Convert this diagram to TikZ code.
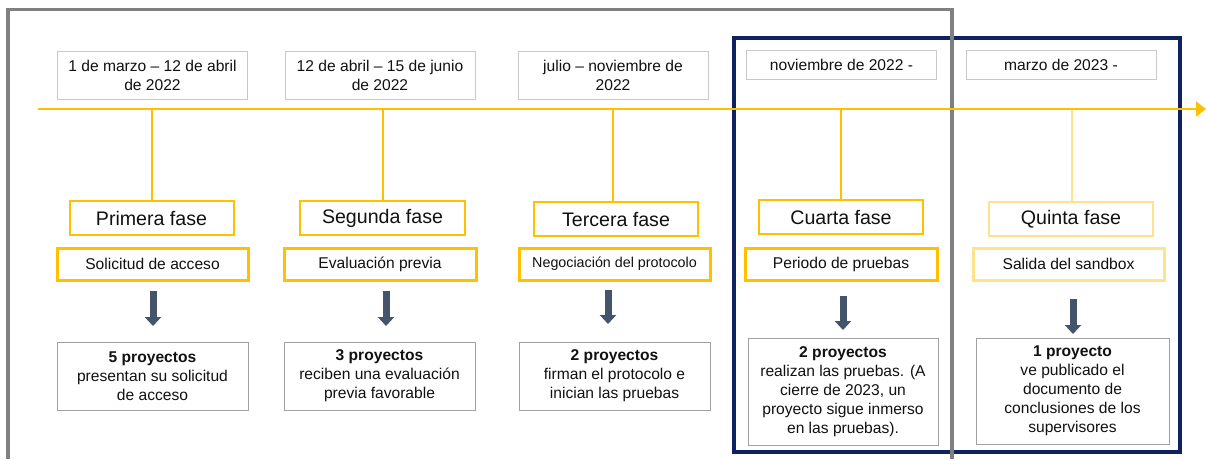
\documentclass[tikz,border=0pt]{standalone}
\usepackage{fontspec}
\setmainfont{Liberation Sans}
\usetikzlibrary{arrows.meta}
\definecolor{ygold}{HTML}{FFC000}
\definecolor{ylight}{HTML}{FFE38C}
\definecolor{navyb}{HTML}{0E2161}
\definecolor{frameg}{HTML}{7F7F7F}
\definecolor{dateg}{HTML}{C9C9C9}
\definecolor{resg}{HTML}{A0A0A0}
\definecolor{slate}{HTML}{44546A}
\definecolor{txt}{HTML}{111111}
\begin{document}
\begin{tikzpicture}[x=1pt,y=-1pt,
  every node/.style={inner sep=0pt, align=center, text=txt},
  datebox/.style={draw=dateg, line width=0.8pt, minimum width=190pt, minimum height=48pt, font=\fontsize{15.6}{19}\selectfont},
  datebox1/.style={datebox, minimum height=29pt},
  fasebox/.style={draw=ygold, line width=2pt, minimum width=164pt, minimum height=34pt, font=\fontsize{19.6}{23}\selectfont},
  subbox/.style={draw=ygold, line width=3pt, minimum width=191pt, minimum height=32pt, font=\fontsize{15.6}{19}\selectfont},
  resbox/.style={draw=resg, line width=1pt, minimum width=191pt, minimum height=68pt, font=\fontsize{15.6}{19}\selectfont},
  blockarrow/.style={draw=slate, line width=7pt, -{Triangle[length=9pt,width=16pt]}},
  tline/.style={draw=ygold, line width=2pt, -{Triangle[length=10pt,width=15pt]}},
  tick/.style={draw=ygold, line width=1.8pt},
  ticklight/.style={draw=ylight, line width=1.5pt}
]
\useasboundingbox (0,0) rectangle (1206,459);
\fill[white] (0,0) rectangle (1206,459);

% frames
\draw[navyb, line width=4pt] (734,38) rectangle (1180,452);
\draw[frameg, line width=3.5pt] (8,459) -- (8,9.5) -- (952,9.5) -- (952,459);

% date boxes
\node[datebox] (d1) at (152.5,75) {1 de marzo -- 12 de abril\\de 2022};
\node[datebox] (d2) at (380,75) {12 de abril -- 15 de junio\\de 2022};
\node[datebox] (d3) at (613,75) {julio -- noviembre de\\2022};
\node[datebox1] (d4) at (841.5,64.5) {noviembre de 2022 -};
\node[datebox1] (d5) at (1061,64.5) {marzo de 2023 -};

% timeline
\coordinate (tl0) at (38,109);
\coordinate (tl1) at (1206,109);
\coordinate (t1) at (152,109);
\coordinate (t2) at (383,109);
\coordinate (t3) at (613,109);
\coordinate (t4) at (841,109);
\coordinate (t5) at (1072,109);

% fase boxes
\node[fasebox] (f1) at (151.5,218) {Primera fase};
\node[fasebox, minimum width=165pt] (f2) at (382.5,218) {Segunda fase};
\node[fasebox] (f3) at (616,219) {Tercera fase};
\node[fasebox] (f4) at (841,217) {Cuarta fase};
\node[fasebox, draw=ylight] (f5) at (1071,219) {Quinta fase};

\draw[tick] (t1) -- (t1 |- f1.north);
\draw[tick] (t2) -- (t2 |- f2.north);
\draw[tick] (t3) -- (t3 |- f3.north);
\draw[tick] (t4) -- (t4 |- f4.north);
\draw[ticklight] (t5) -- (t5 |- f5.north);
\draw[tline] (tl0) -- (tl1);

% subtitle boxes
\node[subbox] (s1) at (152.5,264) {Solicitud de acceso};
\node[subbox, minimum width=192pt] (s2) at (380,264) {Evaluación previa};
\node[subbox, font=\fontsize{14.3}{17}\selectfont] (s3) at (614.5,264) {Negociación del protocolo};
\node[subbox, minimum width=192pt] (s4) at (841,264) {Periodo de pruebas};
\node[subbox, draw=ylight] (s5) at (1068.5,264) {Salida del sandbox};

% result boxes
\node[resbox] (r1) at (152.5,376) {\textbf{5 proyectos}\\presentan su solicitud\\de acceso};
\node[resbox] (r2) at (379.5,376) {\textbf{3 proyectos}\\reciben una evaluación\\previa favorable};
\node[resbox] (r3) at (614.5,376) {\textbf{2 proyectos}\\firman el protocolo e\\inician las pruebas};
\node[resbox, minimum width=190pt, minimum height=107pt] (r4) at (843,391.5) {\textbf{2 proyectos}\\realizan las pruebas. (A\\cierre de 2023, un\\proyecto sigue inmerso\\en las pruebas).};
\node[resbox, minimum width=193pt, minimum height=106pt] (r5) at (1072.5,391) {\textbf{1 proyecto}\\ve publicado el\\documento de\\conclusiones de los\\supervisores};

% block arrows
\coordinate (a1s) at (153,291); \coordinate (a1e) at (153,326);
\coordinate (a2s) at (386,291); \coordinate (a2e) at (386,326);
\coordinate (a3s) at (608,290); \coordinate (a3e) at (608,324);
\coordinate (a4s) at (843,296); \coordinate (a4e) at (843,330);
\coordinate (a5s) at (1073,299); \coordinate (a5e) at (1073,334);
\draw[blockarrow] (a1s) -- (a1e);
\draw[blockarrow] (a2s) -- (a2e);
\draw[blockarrow] (a3s) -- (a3e);
\draw[blockarrow] (a4s) -- (a4e);
\draw[blockarrow] (a5s) -- (a5e);
\end{tikzpicture}
\end{document}
